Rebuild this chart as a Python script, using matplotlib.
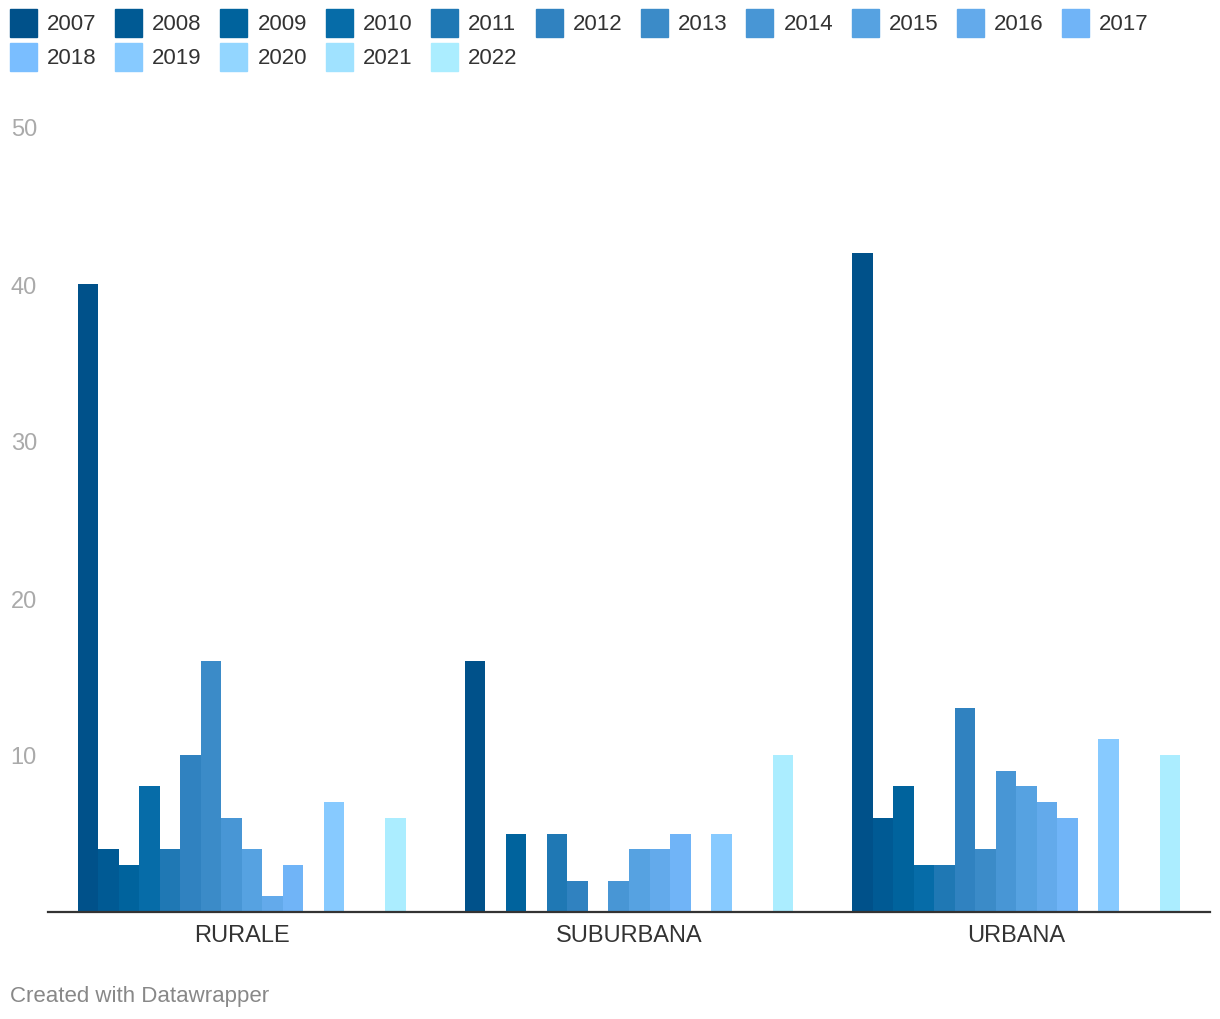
import numpy as np
import matplotlib
matplotlib.use("Agg")
import matplotlib.pyplot as plt
from matplotlib.patches import Rectangle

plt.rcParams['font.family'] = ['Liberation Sans', 'DejaVu Sans']

categories = ['RURALE', 'SUBURBANA', 'URBANA']
years = [str(y) for y in range(2007, 2023)]

# valori per anno: [rurale, suburbana, urbana]
values = {
    '2007': [40, 16, 42],
    '2008': [4, 0, 6],
    '2009': [3, 5, 8],
    '2010': [8, 0, 3],
    '2011': [4, 5, 3],
    '2012': [10, 2, 13],
    '2013': [16, 0, 4],
    '2014': [6, 2, 9],
    '2015': [4, 4, 8],
    '2016': [1, 4, 7],
    '2017': [3, 5, 6],
    '2018': [0, 0, 0],
    '2019': [7, 5, 11],
    '2020': [0, 0, 0],
    '2021': [0, 0, 0],
    '2022': [6, 10, 10],
}

colors = ['#00518a', '#005a94', '#00639d', '#066ca8', '#1f78b4', '#3082c0',
          '#3b8bc8', '#4896d5', '#56a2e1', '#63aaeb', '#70b4f7', '#7abeff',
          '#87caff', '#93d6ff', '#a0e2ff', '#abedff']

yticks = [10, 20, 30, 40, 50]

W, H = 1220, 1020
fig = plt.figure(figsize=(W / 100, H / 100), dpi=100)
ax = fig.add_axes([48 / W, 107 / H, (1210 - 48) / W, (913 - 128) / H])

x = np.arange(len(categories))
group_w = 0.847
bw = group_w / len(years)
for i, yr in enumerate(years):
    ax.bar(x + (i - 7.5) * bw, values[yr], width=bw, color=colors[i],
           linewidth=0, zorder=2)

ax.set_xlim(-0.5, 2.5)
ax.set_ylim(0, 50)
ax.set_xticks(x)
ax.set_xticklabels(categories, fontsize=17, color='#333333')
ax.set_yticks(yticks)
ax.set_yticklabels([str(t) for t in yticks], fontsize=17, color='#aaaaaa')
ax.tick_params(axis='both', length=0)
ax.tick_params(axis='x', pad=9)
ax.tick_params(axis='y', pad=8)
for s in ['top', 'right', 'left']:
    ax.spines[s].set_visible(False)
ax.spines['bottom'].set_color('#333333')
ax.spines['bottom'].set_linewidth(1.6)
ax.spines['bottom'].set_zorder(3)

# legenda in alto
for i, yr in enumerate(years):
    col = i % 11
    row = i // 11
    lx = 10 + col * 105.2
    ly = 10 + row * 34
    fig.patches.append(Rectangle((lx / W, 1 - (ly + 28) / H), 27 / W, 28 / H,
                                 transform=fig.transFigure, color=colors[i]))
    fig.text((lx + 37) / W, 1 - (ly + 14) / H, yr, fontsize=16,
             color='#333333', va='center', ha='left')

fig.text(10 / W, 1 - 997 / H, 'Created with Datawrapper', fontsize=16,
         color='#888888', va='center', ha='left')

fig.savefig('out.png', dpi=100)
